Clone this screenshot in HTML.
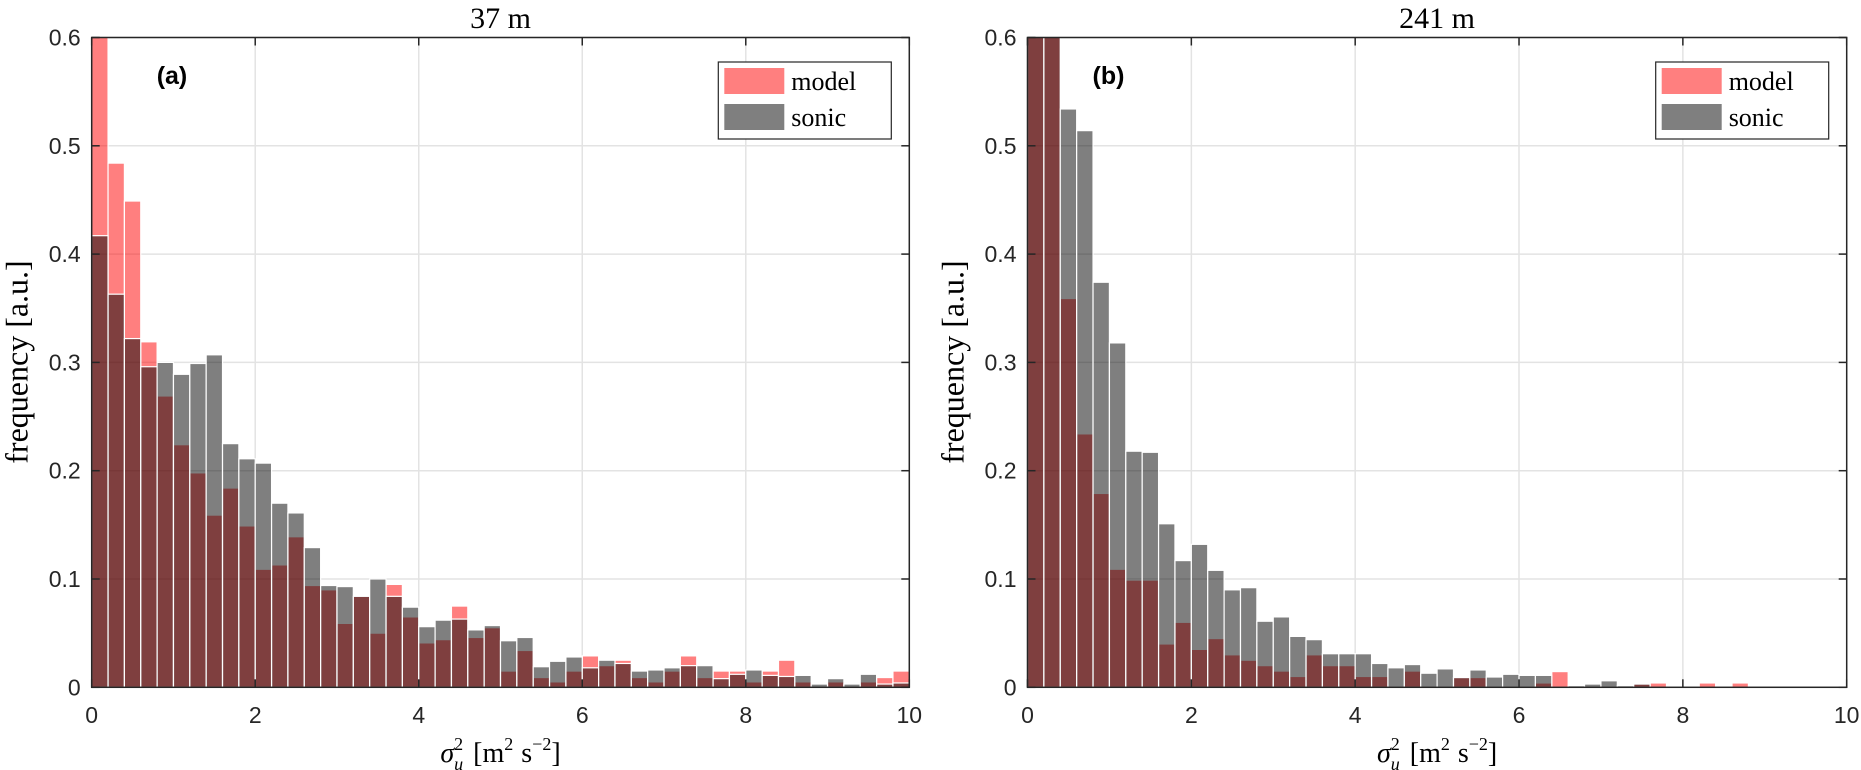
<!DOCTYPE html>
<html><head><meta charset="utf-8">
<style>
html,body{margin:0;padding:0;background:#fff;}
svg{display:block;}
.tick{font-family:"Liberation Sans",Arial,sans-serif;font-size:23px;fill:#262626;}
.serif{font-family:"Liberation Serif","DejaVu Serif",serif;fill:#000;}
</style></head>
<body>
<svg id="fig" width="1861" height="770" viewBox="0 0 1861 770" xmlns="http://www.w3.org/2000/svg"></svg>
<script>
// ---- data ----
const binEdgesStart = 0;
const binWidth = 0.2;
const xTicks = [0, 2, 4, 6, 8, 10];
const yTicks = [0, 0.1, 0.2, 0.3, 0.4, 0.5, 0.6];
const yTickLabels = ["0", "0.1", "0.2", "0.3", "0.4", "0.5", "0.6"];
const titles = ["37 m", "241 m"];
const panelLabels = ["(a)", "(b)"];

const leftModel = [0.65,0.484,0.449,0.319,0.269,0.224,0.198,0.159,0.184,0.149,
  0.109,0.113,0.139,0.094,0.090,0.059,0.084,0.050,0.095,0.065,
  0.041,0.044,0.075,0.046,0.055,0.015,0.034,0.009,0.005,0.015,
  0.029,0.020,0.025,0.009,0.005,0.015,0.029,0.009,0.015,0.015,
  0.005,0.015,0.025,0.005,0.001,0.005,0,0.005,0.009,0.015];
const leftSonic = [0.417,0.363,0.322,0.296,0.300,0.289,0.299,0.307,0.225,0.211,
  0.207,0.170,0.161,0.129,0.094,0.093,0.084,0.100,0.084,0.074,
  0.056,0.062,0.063,0.053,0.057,0.043,0.046,0.019,0.024,0.028,
  0.018,0.025,0.022,0.015,0.016,0.018,0.020,0.020,0.008,0.012,
  0.016,0.011,0.010,0.011,0.003,0.008,0.003,0.012,0.003,0.004];
const rightModel = [0.65,0.65,0.359,0.234,0.179,0.109,0.099,0.099,0.040,0.060,
  0.035,0.045,0.030,0.025,0.020,0.015,0.010,0.030,0.020,0.020,
  0.010,0.010,0,0.015,0,0,0.009,0.009,0,0,
  0,0.004,0.0145,0,0,0,0,0.003,0.004,0,
  0,0.004,0,0.004,0,0,0,0,0,0];
const rightSonic = [0.65,0.65,0.534,0.514,0.374,0.318,0.218,0.217,0.151,0.117,
  0.132,0.108,0.090,0.092,0.061,0.065,0.047,0.044,0.031,0.031,
  0.031,0.022,0.018,0.021,0.013,0.017,0.009,0.016,0.0095,0.012,
  0.011,0.011,0,0.0015,0.003,0.006,0.0015,0.003,0,0,
  0,0,0,0,0,0,0,0,0,0];

const NS = "http://www.w3.org/2000/svg";
const svg = document.getElementById("fig");
function mk(tag, attrs, parent){
  const e = document.createElementNS(NS, tag);
  for (const k in attrs) e.setAttribute(k, attrs[k]);
  (parent||svg).appendChild(e);
  return e;
}

const panels = [
  {x0: 91.7, x1: 909.3, key: "left", model: leftModel, sonic: leftSonic},
  {x0: 1027.5, x1: 1846.7, key: "right", model: rightModel, sonic: rightSonic}
];
const yTop = 37.5, yBot = 687.3, yMax = 0.6, xMax = 10;

panels.forEach((p, pi) => {
  const g = mk("g", {});
  
  
  const sx = v => p.x0 + (v / xMax) * (p.x1 - p.x0);
  const sy = v => yBot - (v / yMax) * (yBot - yTop);

  const clip = mk("clipPath", {id: "clip" + pi}, g);
  mk("rect", {x: p.x0, y: yTop, width: p.x1 - p.x0, height: yBot - yTop}, clip);

  const grid = mk("g", {stroke: "#e3e3e3", "stroke-width": 1.5}, g);
  
  
  xTicks.forEach(t => mk("line", {x1: sx(t), x2: sx(t), y1: yTop, y2: yBot}, grid));
  yTicks.forEach(t => mk("line", {x1: p.x0, x2: p.x1, y1: sy(t), y2: sy(t)}, grid));

  const bars = mk("g", {"clip-path": "url(#clip" + pi + ")"}, g);
  [["model", p.model, "rgba(255,0,0,0.5)"], ["sonic", p.sonic, "rgba(0,0,0,0.5)"]].forEach(([nm, arr, col]) => {
    arr.forEach((v, i) => {
      if (v <= 0) return;
      const xa = sx(binEdgesStart + i * binWidth), xb = sx(binEdgesStart + (i + 1) * binWidth);
      const r = mk("rect", {x: xa, y: sy(v), width: xb - xa, height: sy(0) - sy(v), fill: col, stroke: "#fff", "stroke-width": 1.2}, bars);
      
      
    });
  });

  const box = mk("rect", {x: p.x0, y: yTop, width: p.x1 - p.x0, height: yBot - yTop, fill: "none", stroke: "#262626", "stroke-width": 1.5}, g);
  
  
  const tk = mk("g", {stroke: "#262626", "stroke-width": 1.5}, g);
  xTicks.forEach(t => {
    mk("line", {x1: sx(t), x2: sx(t), y1: yBot, y2: yBot - 8}, tk);
    mk("line", {x1: sx(t), x2: sx(t), y1: yTop, y2: yTop + 8}, tk);
  });
  yTicks.forEach(t => {
    mk("line", {x1: p.x0, x2: p.x0 + 8, y1: sy(t), y2: sy(t)}, tk);
    mk("line", {x1: p.x1, x2: p.x1 - 8, y1: sy(t), y2: sy(t)}, tk);
  });

  xTicks.forEach(t => {
    const tx = mk("text", {x: sx(t), y: 723, "text-anchor": "middle", class: "tick"}, g);
    tx.textContent = String(t);
    
    
  });
  yTicks.forEach((t, i) => {
    const tx = mk("text", {x: p.x0 - 11, y: sy(t) + 8, "text-anchor": "end", class: "tick"}, g);
    tx.textContent = yTickLabels[i];
    
    
  });

  const ti = mk("text", {x: (p.x0 + p.x1) / 2, y: 28, "text-anchor": "middle", class: "serif", "font-size": 30}, g);
  ti.textContent = titles[pi];
  
  

  const pl = mk("text", {x: p.x0 + 65, y: 84, "font-family": "Liberation Sans, Arial, sans-serif", "font-weight": "bold", "font-size": 25, fill: "#000"}, g);
  pl.textContent = panelLabels[pi];
  
  

  const yl = mk("text", {x: 0, y: 0, "text-anchor": "middle", class: "serif", "font-size": 32, transform: "translate(" + (p.x0 - 64) + ",362) rotate(-90)"}, g);
  yl.textContent = "frequency [a.u.]";
  
  

  const xl = mk("text", {x: (p.x0 + p.x1) / 2, y: 762, "text-anchor": "middle", class: "serif", "font-size": 28}, g);
  xl.innerHTML = '<tspan font-style="italic">σ</tspan><tspan font-size="18" dy="-12">2</tspan><tspan font-size="18" font-style="italic" dx="-9" dy="20">u</tspan><tspan dy="-8" dx="10">[m</tspan><tspan font-size="18" dy="-12">2</tspan><tspan dy="12" dx="8">s</tspan><tspan font-size="18" dy="-12">−2</tspan><tspan dy="12">]</tspan>';
  
  

  const lg = mk("g", {}, g);
  
  
  const lx = p.x1 - 191, ly = 62;
  mk("rect", {x: lx, y: ly, width: 173, height: 77, fill: "#fff", stroke: "#262626", "stroke-width": 1.2}, lg);
  [["model", "rgba(255,0,0,0.5)", 0], ["sonic", "rgba(0,0,0,0.5)", 1]].forEach(([nm, col, k]) => {
    const e = mk("g", {}, lg);
    
    
    mk("rect", {x: lx + 6, y: ly + 6 + k * 36, width: 60, height: 26, fill: col}, e);
    const t = mk("text", {x: lx + 73, y: ly + 28 + k * 36, class: "serif", "font-size": 26}, e);
    t.textContent = nm;
  });
});
</script>
</body></html>
